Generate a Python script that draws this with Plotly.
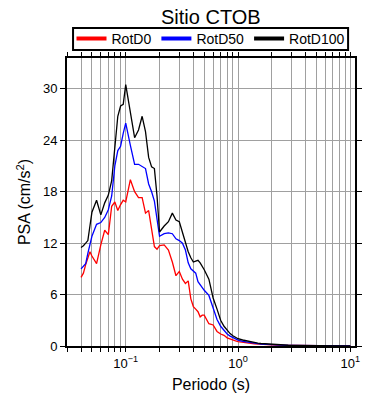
import math
import plotly.graph_objects as go

periods = [0.04, 0.042, 0.044, 0.046, 0.048, 0.05, 0.055, 0.06, 0.065, 0.07,
           0.075, 0.08, 0.085, 0.09, 0.095, 0.1, 0.11, 0.12, 0.13, 0.14,
           0.15, 0.16, 0.17, 0.18, 0.19, 0.2, 0.22, 0.24, 0.26, 0.28,
           0.3, 0.32, 0.34, 0.36, 0.38, 0.4, 0.42, 0.44, 0.46, 0.48,
           0.5, 0.55, 0.6, 0.65, 0.7, 0.75, 0.8, 0.85, 0.9, 0.95,
           1.0, 1.1, 1.2, 1.3, 1.4, 1.5, 1.6, 1.8, 2.0, 2.2,
           2.4, 2.6, 2.8, 3.0, 3.5, 4.0, 4.5, 5.0, 6.0, 7.0,
           8.0, 9.0, 10.0]

rotd0 = [8.0, 8.5, 9.5, 10.4, 11.0, 10.5, 9.6, 11.8, 13.5, 13.0,
         16.3, 16.8, 15.8, 16.5, 17.0, 16.8, 19.4, 18.0, 17.3, 17.3,
         15.5, 15.8, 13.7, 11.6, 11.3, 11.7, 11.8, 11.2, 9.8, 8.2,
         8.7, 7.8, 7.3, 7.6, 5.5, 4.6, 4.3, 4.0, 3.4, 3.6,
         3.6, 2.6, 2.45, 1.7, 1.4, 1.25, 0.95, 0.8, 0.7, 0.6,
         0.52, 0.42, 0.35, 0.3, 0.26, 0.22, 0.2, 0.15, 0.12, 0.1,
         0.09, 0.07, 0.06, 0.05, 0.04, 0.03, 0.025, 0.02, 0.015, 0.012,
         0.01, 0.01, 0.01]

rotd50 = [9.0, 9.3, 9.6, 10.8, 12.0, 12.8, 14.2, 14.4, 15.0, 15.9,
          17.5, 21.0, 22.8, 23.3, 24.8, 26.0, 23.4, 21.2, 21.2, 20.9,
          20.7, 18.9, 18.0, 16.9, 15.0, 12.8, 13.1, 13.2, 13.1, 12.5,
          12.3, 12.0, 11.2, 9.7, 9.0, 8.7, 8.5, 7.5, 7.1, 6.8,
          6.5, 5.9, 4.3, 3.1, 2.3, 1.8, 1.4, 1.15, 0.95, 0.8,
          0.68, 0.55, 0.45, 0.38, 0.32, 0.27, 0.23, 0.18, 0.14, 0.12,
          0.1, 0.08, 0.07, 0.06, 0.05, 0.04, 0.03, 0.03, 0.02, 0.02,
          0.015, 0.01, 0.01]

rotd100 = [11.5, 11.7, 12.0, 12.3, 14.0, 15.6, 17.0, 15.3, 16.7, 17.6,
           19.3, 23.5, 26.8, 28.0, 28.2, 30.5, 27.0, 24.3, 25.2, 26.8,
           25.0, 22.0, 20.9, 20.7, 17.5, 13.3, 14.0, 14.5, 15.5, 14.7,
           14.5, 13.3, 12.0, 11.0, 10.3, 9.8, 9.9, 10.0, 9.7, 9.3,
           8.9, 7.8, 5.6, 4.3, 3.0, 2.3, 1.8, 1.45, 1.2, 0.98,
           0.85, 0.7, 0.58, 0.47, 0.4, 0.34, 0.29, 0.23, 0.18, 0.15,
           0.12, 0.1, 0.09, 0.08, 0.06, 0.05, 0.04, 0.035, 0.03, 0.02,
           0.02, 0.015, 0.01]

series_names = ["RotD0", "RotD50", "RotD100"]
series_colors = ["#ff0000", "#0000ff", "#000000"]
y_ticks = [0, 6, 12, 18, 24, 30]

x_min, x_max = 0.03, 11.0
x_tickvals, x_ticktext = [], []
for d in [-2, -1, 0, 1]:
    for m in range(1, 10):
        v = m * 10 ** d
        if x_min - 1e-9 <= v <= x_max:
            x_tickvals.append(v)
            if m == 1:
                x_ticktext.append("10<sup>" + (str(d) if d >= 0 else "\u2212" + str(-d)) + "</sup>")
            else:
                x_ticktext.append("")

FONT = "Liberation Sans, Arial, Helvetica, sans-serif"

fig = go.Figure()
for name, vals, col in zip(series_names, [rotd0, rotd50, rotd100], series_colors):
    fig.add_trace(go.Scatter(x=periods, y=vals, mode="lines", name=name,
                             line=dict(color=col, width=1.3), showlegend=False))
    fig.add_trace(go.Scatter(x=[None], y=[None], mode="lines", name=name,
                             line=dict(color=col, width=4), showlegend=True))

# legend frame drawn as a shape (paper coords)
fig.add_shape(type="rect", xref="paper", yref="paper",
              x0=0.021, x1=0.976, y0=1.028, y1=1.104,
              line=dict(color="black", width=2), fillcolor="rgba(0,0,0,0)")

# the page body adds an 8px offset, so the figure is sized 8px smaller
fig.update_layout(
    width=382, height=392,
    margin=dict(l=59, r=35, t=50, b=54, autoexpand=False),
    paper_bgcolor="white", plot_bgcolor="white",
    font=dict(family=FONT, color="black", size=13),
    title=dict(text="Sitio CTOB", x=0.531, xanchor="center", y=0.977, yanchor="middle",
               font=dict(size=20, family=FONT, color="black")),
    legend=dict(orientation="h", x=0.5, xanchor="center", y=1.066, yanchor="middle",
                borderwidth=0, bgcolor="rgba(0,0,0,0)",
                font=dict(size=14, family=FONT),
                tracegroupgap=0, itemwidth=30),
    showlegend=True,
)
fig.update_xaxes(type="log", range=[math.log10(x_min), math.log10(x_max)],
                 tickvals=x_tickvals, ticktext=x_ticktext,
                 ticks="outside", ticklen=4, tickcolor="black", tickwidth=1,
                 showgrid=True, gridcolor="#a0a0a0", gridwidth=1,
                 showline=True, linecolor="black", linewidth=2, mirror="ticks",
                 zeroline=False, automargin=False,
                 tickfont=dict(size=13, family=FONT),
                 title=dict(text="Periodo (s)", font=dict(size=16, family=FONT), standoff=9))
fig.update_yaxes(range=[0, 33.6], tickvals=y_ticks,
                 ticks="outside", ticklen=5, tickcolor="black", tickwidth=1,
                 showgrid=True, gridcolor="#a0a0a0", gridwidth=1,
                 showline=True, linecolor="black", linewidth=2, mirror="ticks",
                 zeroline=False, automargin=False,
                 tickfont=dict(size=13, family=FONT),
                 title=dict(text="PSA (cm/s<sup>2</sup>)", font=dict(size=16, family=FONT), standoff=8))

fig.write_html("out.html")
